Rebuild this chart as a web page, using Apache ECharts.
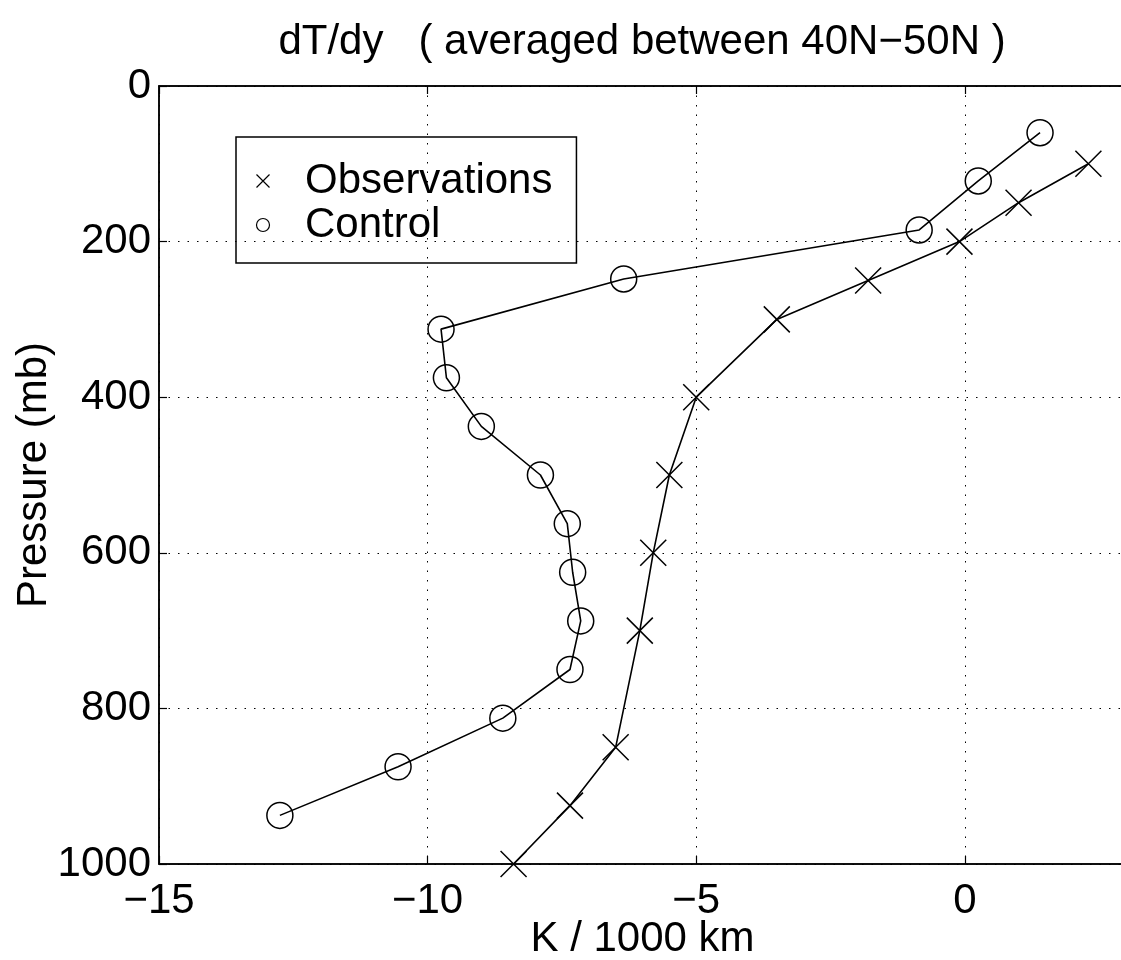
<!DOCTYPE html>
<html><head><meta charset="utf-8">
<script src="https://cdn.jsdelivr.net/npm/echarts@6/dist/echarts.min.js"></script>
<style>html,body{margin:0;padding:0;background:#fff}#c{width:1121px;height:960px}</style>
</head><body><div id="c"></div>
<script>
// Observations (standard pressure levels)
const obsPressure = [100, 150, 200, 250, 300, 400, 500, 600, 700, 850, 925, 1000];
const obsValues   = [2.3, 1.0, -0.1, -1.8, -3.5, -5.0, -5.5, -5.8, -6.05, -6.5, -7.35, -8.4];
// Control run (model levels)
const ctlPressure = [60, 122, 185, 248, 312.5, 375, 437.5, 500, 562.5, 625, 687.5, 750, 812.5, 875, 937.5];
const ctlValues   = [1.4, 0.25, -0.85, -6.35, -9.75, -9.65, -9.0, -7.9, -7.4, -7.3, -7.15, -7.35, -8.6, -10.55, -12.75];
// Axis ticks
const xTicks = [-15, -10, -5, 0];
const yTicks = [0, 200, 400, 600, 800, 1000];
const titleText = 'dT/dy   ( averaged between 40N\u221250N )';
const xName = 'K / 1000 km';
const yName = 'Pressure (mb)';
const seriesNames = ['Observations', 'Control'];

const FONT = "'Liberation Sans', Arial, Helvetica, sans-serif";
const XPATH = 'path://M0,0L10,10M10,0L0,10';
const minusFmt = v => String(v).replace('-', '\u2212');

const chart = echarts.init(document.getElementById('c'), null, {renderer: 'canvas'});
chart.setOption({
  animation: false,
  backgroundColor: '#fff',
  title: {
    text: titleText, left: 642, top: 21, textAlign: 'center', padding: 0,
    textStyle: {fontFamily: FONT, fontSize: 42, fontWeight: 'normal', color: '#000'}
  },
  legend: {
    left: 236, top: 137, orient: 'vertical',
    padding: [22, 24, 16, 18], itemGap: 0,
    itemWidth: 50, itemHeight: 13,
    borderColor: '#000', borderWidth: 1.5, backgroundColor: 'transparent',
    textStyle: {fontFamily: FONT, fontSize: 42, color: '#000', lineHeight: 44, padding: [0, 0, 0, 12]},
    data: [
      {name: seriesNames[0], icon: XPATH, itemStyle: {color: 'none', borderColor: '#000', borderWidth: 1.2}},
      {name: seriesNames[1], icon: 'circle', itemStyle: {color: 'none', borderColor: '#000', borderWidth: 1.2}}
    ]
  },
  grid: {
    left: 159, top: 86, width: 967, height: 778,
    show: true, borderColor: '#000', borderWidth: 1.5, backgroundColor: 'transparent',
    outerBoundsMode: 'none', containLabel: false
  },
  xAxis: [{
    type: 'value', min: xTicks[0], max: 3, interval: 5,
    name: xName, nameLocation: 'middle', nameGap: 54, nameMoveOverlap: false,
    nameTextStyle: {fontFamily: FONT, fontSize: 42, color: '#000'},
    axisLine: {show: true, onZero: false, lineStyle: {color: '#000', width: 1.5}},
    axisTick: {show: true, inside: true, length: 8, lineStyle: {color: '#000', width: 1.2}},
    axisLabel: {fontFamily: FONT, fontSize: 42, color: '#000', margin: 16, formatter: minusFmt, showMaxLabel: false, showMinLabel: true},
    splitLine: {show: true, lineStyle: {color: '#000', width: 1, type: [1.5, 8]}}
  }, {
    type: 'value', position: 'top', min: xTicks[0], max: 3, interval: 5,
    axisLine: {show: true, onZero: false, lineStyle: {color: '#000', width: 1.5}},
    axisTick: {show: true, inside: true, length: 8, lineStyle: {color: '#000', width: 1.2}},
    axisLabel: {show: false},
    splitLine: {show: false}
  }],
  yAxis: {
    type: 'value', inverse: true, min: yTicks[0], max: yTicks[yTicks.length - 1], interval: 200,
    name: yName, nameLocation: 'middle', nameGap: 104, nameRotate: 90, nameMoveOverlap: false,
    nameTextStyle: {fontFamily: FONT, fontSize: 42, color: '#000'},
    axisLine: {show: true, onZero: false, lineStyle: {color: '#000', width: 1.5}},
    axisTick: {show: true, inside: true, length: 8, lineStyle: {color: '#000', width: 1.2}},
    axisLabel: {fontFamily: FONT, fontSize: 42, color: '#000', margin: 8, formatter: v => String(v)},
    splitLine: {show: true, lineStyle: {color: '#000', width: 1, type: [1.5, 8]}}
  },
  series: [
    {
      name: seriesNames[0], type: 'line',
      data: obsValues.map((v, i) => [v, obsPressure[i]]),
      symbol: XPATH, symbolSize: 26,
      itemStyle: {color: 'none', borderColor: '#000', borderWidth: 1.5},
      lineStyle: {color: '#000', width: 1.6},
      z: 3
    },
    {
      name: seriesNames[1], type: 'line',
      data: ctlValues.map((v, i) => [v, ctlPressure[i]]),
      symbol: 'circle', symbolSize: 26,
      itemStyle: {color: 'none', borderColor: '#000', borderWidth: 1.5},
      lineStyle: {color: '#000', width: 1.6},
      z: 3
    }
  ]
});
</script>
</body></html>
